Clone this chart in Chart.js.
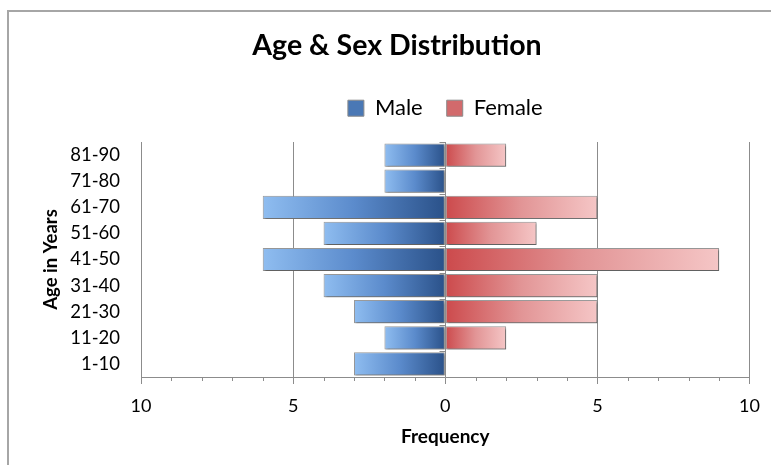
<!DOCTYPE html>
<html>
<head>
<meta charset="utf-8">
<title>Age &amp; Sex Distribution</title>
<script src="https://cdn.jsdelivr.net/npm/chart.js@4/dist/chart.umd.min.js"></script>
<style>
  html, body { margin: 0; padding: 0; background: #fff; overflow: hidden; }
  #wrap { position: relative; width: 771px; height: 465px; overflow: hidden; }
  #frame { position: absolute; left: 7px; top: 10px; width: 900px; height: 600px;
           border: 2px solid #a6a6a6; box-sizing: border-box; }
  #c { position: absolute; left: 0; top: 0; }
</style>
</head>
<body>
<div id="wrap">
  <div id="frame"></div>
  <canvas id="c" width="771" height="465"></canvas>
</div>
<script>
// Age groups, youngest first (the axis is reversed so 81-90 sits on top)
const ageGroups = ['1-10', '11-20', '21-30', '31-40', '41-50', '51-60', '61-70', '71-80', '81-90'];
const maleCounts = [3, 2, 3, 4, 6, 4, 6, 2, 2];
const femaleCounts = [0, 2, 5, 5, 9, 3, 5, 0, 2];

// Frequency axis: males are plotted to the left of zero
const freqMin = -10;
const freqMax = 10;
const freqStep = 5;

const FONT = 'Lato, "Open Sans", sans-serif';
const AXIS_GRAY = '#8c8c8c';

// gradient colour stops: [at zero, middle, at bar end]
const maleStops = ['#2a5189', '#5b8bcc', '#8fbdf0'];
const femaleStops = ['#cc4a4c', '#e29596', '#f5c6c6'];

function fadeFill(stops) {
  return (c) => {
    const chart = c.chart;
    if (c.type !== 'data' || !chart.chartArea || !chart.scales.x) return stops[1];
    const xs = chart.scales.x;
    const x0 = xs.getPixelForValue(0);
    const x1 = xs.getPixelForValue(c.raw);
    if (!isFinite(x0) || !isFinite(x1) || x0 === x1) return stops[1];
    const g = chart.ctx.createLinearGradient(x0, 0, x1, 0);
    g.addColorStop(0, stops[0]);
    g.addColorStop(0.5, stops[1]);
    g.addColorStop(1, stops[2]);
    return g;
  };
}

// soft drop shadow under the bars, then the zero axis with its ticks and the minor frequency ticks
const pyramidDecor = {
  id: 'pyramidDecor',
  beforeDatasetsDraw(chart) {
    const ctx = chart.ctx;
    ctx.save();
    ctx.shadowColor = 'rgba(0,0,0,0.4)';
    ctx.shadowBlur = 2;
    ctx.shadowOffsetX = 1.5;
    ctx.shadowOffsetY = 1.5;
  },
  afterDatasetsDraw(chart) {
    const ctx = chart.ctx;
    ctx.restore();
    const xs = chart.scales.x, ys = chart.scales.y;
    const { top, bottom } = chart.chartArea;
    ctx.save();
    ctx.strokeStyle = AXIS_GRAY;
    ctx.lineWidth = 1;
    ctx.beginPath();
    const x0 = Math.round(xs.getPixelForValue(0)) + 0.5;
    ctx.moveTo(x0, top);
    ctx.lineTo(x0, bottom);
    for (let i = 0; i <= ageGroups.length; i++) {
      const y = Math.round(ys.getPixelForValue(i - 0.5)) + 0.5;
      ctx.moveTo(x0 - 6, y);
      ctx.lineTo(x0, y);
    }
    for (let v = freqMin; v <= freqMax; v++) {
      if (v % freqStep === 0) continue;
      const xv = Math.round(xs.getPixelForValue(v)) + 0.5;
      ctx.moveTo(xv, bottom);
      ctx.lineTo(xv, bottom + 4);
    }
    ctx.stroke();
    ctx.restore();
  }
};

const legendFills = ['#4a78b5', '#d26a6c'];

Chart.defaults.color = '#000';
Chart.defaults.font.family = FONT;

new Chart(document.getElementById('c'), {
  type: 'bar',
  data: {
    labels: ageGroups,
    datasets: [
      {
        label: 'Male',
        data: maleCounts.map(v => -v),
        backgroundColor: fadeFill(maleStops),
        borderColor: '#9a9a9a',
        borderWidth: 1,
        borderSkipped: false
      },
      {
        label: 'Female',
        data: femaleCounts,
        backgroundColor: fadeFill(femaleStops),
        borderColor: '#9a9a9a',
        borderWidth: 1,
        borderSkipped: false
      }
    ]
  },
  options: {
    indexAxis: 'y',
    responsive: false,
    animation: false,
    layout: { padding: { left: 43, right: 20, top: 0, bottom: 0 } },
    datasets: { bar: { categoryPercentage: 0.89, barPercentage: 1 } },
    plugins: {
      title: {
        display: true,
        text: 'Age & Sex Distribution',
        font: { family: FONT, size: 28.5, weight: 'bold' },
        color: '#000',
        padding: { top: 29, bottom: 10 }
      },
      legend: {
        display: true,
        position: 'top',
        fullSize: false,
        labels: {
          font: { family: FONT, size: 22 },
          boxWidth: 16,
          boxHeight: 16,
          padding: 24,
          color: '#000',
          generateLabels(chart) {
            const items = Chart.defaults.plugins.legend.labels.generateLabels(chart);
            items.forEach((it, i) => {
              it.fillStyle = legendFills[i];
              it.strokeStyle = '#8a8a8a';
              it.lineWidth = 1;
            });
            return items;
          }
        }
      },
      // empty spacer line between the legend and the plot
      subtitle: {
        display: true,
        text: '',
        weight: 500,
        fullSize: false,
        font: { size: 10 },
        padding: { top: 0.8, bottom: 0 }
      },
      tooltip: { enabled: false }
    },
    scales: {
      x: {
        type: 'linear',
        stacked: true,
        min: freqMin,
        max: freqMax,
        ticks: {
          stepSize: freqStep,
          padding: 11,
          font: { family: FONT, size: 18 },
          color: '#000',
          callback: v => String(Math.abs(v))
        },
        grid: { color: AXIS_GRAY, lineWidth: 1, tickLength: 7, tickColor: AXIS_GRAY },
        border: { display: true, color: AXIS_GRAY, width: 1 },
        title: {
          display: true,
          text: 'Frequency',
          font: { family: FONT, size: 19, weight: 'bold' },
          color: '#000',
          padding: { top: 0, bottom: 16.6 }
        },
        afterFit(scale) { scale.height = 88; }
      },
      y: {
        type: 'category',
        stacked: true,
        reverse: true,
        grid: { display: false, drawTicks: false },
        border: { display: false },
        ticks: {
          padding: 21,
          font: { family: FONT, size: 18.5 },
          color: '#000'
        },
        title: {
          display: true,
          text: 'Age in Years',
          font: { family: FONT, size: 18.5, weight: 'bold' },
          color: '#000',
          padding: { top: -3.5, bottom: 0 }
        },
        afterFit(scale) { scale.width = 98; }
      }
    }
  },
  plugins: [pyramidDecor]
});
</script>
</body>
</html>
